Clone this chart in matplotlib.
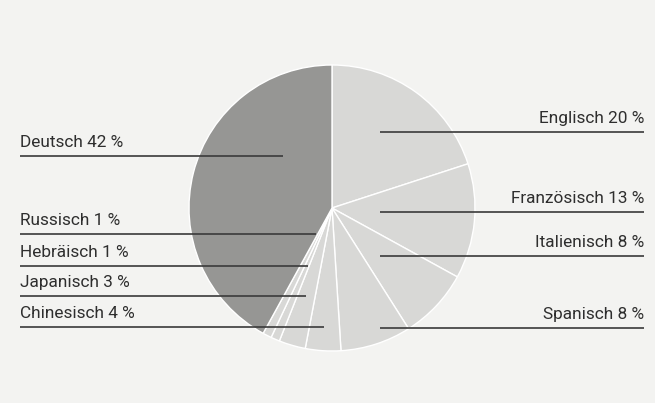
import matplotlib.pyplot as plt

# Anteile der Sprachen (im Uhrzeigersinn ab 12 Uhr)
sprachen = ["Englisch", "Französisch", "Italienisch", "Spanisch", "Chinesisch",
            "Japanisch", "Hebräisch", "Russisch", "Deutsch"]
anteile = [20, 13, 8, 8, 4, 3, 1, 1, 42]
farben = ["#d8d8d6"] * 8 + ["#969694"]

# Beschriftungen: Seite, Höhe der Linie (px von oben), inneres Linienende (px)
seite = ["r", "r", "r", "r", "l", "l", "l", "l", "l"]
linie_y = [132, 212, 256, 328, 327, 296, 266, 234, 156]
linie_innen = [380, 380, 380, 380, 324, 306, 308, 316, 283]

W, H = 655, 403
plt.rcParams['font.family'] = ['Roboto', 'DejaVu Sans']
fig = plt.figure(figsize=(W / 100, H / 100), dpi=100)
fig.patch.set_facecolor("#f3f3f1")
ax = fig.add_axes([0, 0, 1, 1])

ax.pie(anteile, colors=farben, startangle=90, counterclock=False,
       center=(332, H - 208), radius=143, frame=True,
       wedgeprops=dict(edgecolor="white", linewidth=1.0))
ax.set_xlim(0, W)
ax.set_ylim(0, H)
ax.set_aspect("equal")
ax.axis("off")

for name, wert, s, y, xi in zip(sprachen, anteile, seite, linie_y, linie_innen):
    yy = H - y
    if s == "l":
        ax.plot([20, xi], [yy, yy], color="#3a3a3a", lw=1.2, solid_capstyle="butt")
        ax.text(20, yy + 6, f"{name} {wert} %", ha="left", va="bottom",
                fontsize=12.4, color="#2e2e2e")
    else:
        ax.plot([xi, 644], [yy, yy], color="#3a3a3a", lw=1.2, solid_capstyle="butt")
        ax.text(644, yy + 6, f"{name} {wert} %", ha="right", va="bottom",
                fontsize=12.4, color="#2e2e2e")

fig.savefig("out.png", dpi=100, facecolor=fig.get_facecolor())
